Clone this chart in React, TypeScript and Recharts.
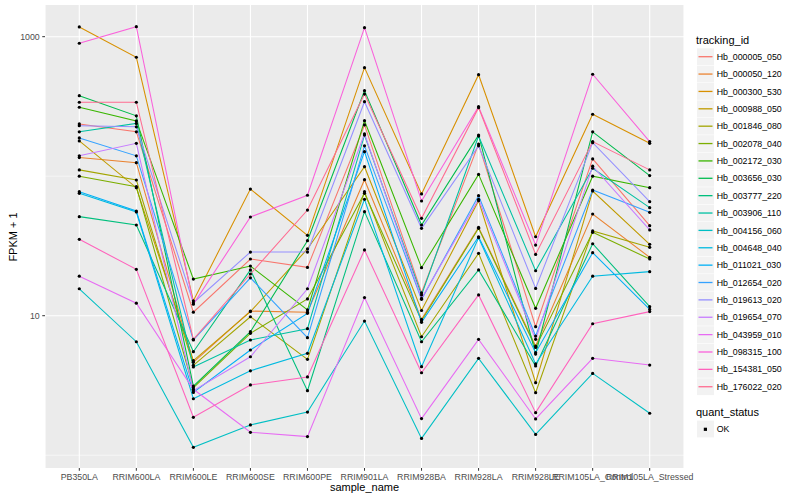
import { LineChart, Line, XAxis, YAxis, CartesianGrid } from "recharts";

// x categories
const SAMPLES = [
  "PB350LA",
  "RRIM600LA",
  "RRIM600LE",
  "RRIM600SE",
  "RRIM600PE",
  "RRIM901LA",
  "RRIM928BA",
  "RRIM928LA",
  "RRIM928LE",
  "RRIM105LA_Control",
  "RRIM105LA_Stressed",
];

const TRACKING_IDS = [
  "Hb_000005_050",
  "Hb_000050_120",
  "Hb_000300_530",
  "Hb_000988_050",
  "Hb_001846_080",
  "Hb_002078_040",
  "Hb_002172_030",
  "Hb_003656_030",
  "Hb_003777_220",
  "Hb_003906_110",
  "Hb_004156_060",
  "Hb_004648_040",
  "Hb_011021_030",
  "Hb_012654_020",
  "Hb_019613_020",
  "Hb_019654_070",
  "Hb_043959_010",
  "Hb_098315_100",
  "Hb_154381_050",
  "Hb_176022_020",
];

// FPKM + 1, one value per sample
const hb000005_050 = [237, 208, 10.6, 25.5, 22.2, 233, 14.6, 170, 8.34, 133, 44.2];
const hb000050_120 = [136, 125, 4.63, 10.8, 10.6, 94.4, 9.42, 43.0, 6.06, 53.6, 26.2];
const hb000300_530 = [1174, 712, 12.8, 80.9, 37.7, 600, 74.6, 534, 36.8, 278, 172];
const hb000988_050 = [179, 82.7, 4.76, 10.7, 30.1, 117, 10.9, 66.7, 3.31, 78.3, 32.5];
const hb001846_080 = [111, 93.9, 4.41, 9.83, 4.87, 77.4, 7.07, 28.0, 2.81, 40.5, 30.9];
const hb002078_040 = [100, 84.1, 3.05, 7.48, 13.2, 75.4, 9.21, 42.3, 5.93, 39.6, 25.5];
const hb002172_030 = [312, 249, 18.3, 22.7, 11.0, 250, 22.1, 103, 11.3, 100, 82.7];
const hb003656_030 = [378, 271, 3.13, 7.68, 34.5, 410, 44.7, 197, 5.31, 208, 101];
const hb003777_220 = [51.3, 44.7, 5.52, 21.3, 2.9, 55.7, 6.51, 21.3, 4.36, 32.8, 11.6];
const hb003906_110 = [208, 239, 4.29, 6.7, 8.07, 197, 14.1, 194, 21.0, 114, 59.5];
const hb004156_060 = [15.6, 6.51, 1.14, 1.65, 2.04, 9.16, 1.32, 4.95, 1.41, 3.86, 2.0];
const hb004648_040 = [75.4, 55.4, 2.54, 4.03, 5.38, 68.3, 4.31, 36.2, 4.51, 19.2, 20.7];
const hb011021_030 = [77.4, 56.3, 2.82, 5.68, 10.4, 150, 8.97, 36.8, 5.43, 28.3, 11.1];
const hb012654_020 = [188, 140, 6.7, 18.7, 6.96, 165, 13.1, 72.5, 7.15, 79.6, 55.1];
const hb019613_020 = [230, 226, 12.4, 28.6, 28.6, 342, 42.3, 165, 15.7, 174, 65.7];
const hb019654_070 = [140, 172, 2.9, 5.08, 15.6, 201, 13.3, 68.3, 6.77, 118, 41.2];
const hb043959_010 = [19.2, 12.3, 2.97, 1.46, 1.36, 13.5, 1.83, 6.77, 1.82, 4.95, 4.43];
const hb098315_100 = [897, 1180, 12.1, 51.0, 73.0, 1160, 66.4, 315, 32.1, 538, 177];
const hb154381_050 = [35.3, 21.5, 1.87, 3.19, 3.64, 29.6, 3.9, 14.1, 2.02, 8.76, 10.7];
const hb176022_020 = [339, 339, 6.77, 19.9, 57.2, 388, 49.9, 310, 27.5, 177, 111];

const SERIES_VALUES = [
  hb000005_050, hb000050_120, hb000300_530, hb000988_050, hb001846_080,
  hb002078_040, hb002172_030, hb003656_030, hb003777_220, hb003906_110,
  hb004156_060, hb004648_040, hb011021_030, hb012654_020, hb019613_020,
  hb019654_070, hb043959_010, hb098315_100, hb154381_050, hb176022_020,
];

const Y_TICKS = [10, 1000];
const Y_MINOR = [1, 100];

// ggplot default hue palette, 20 levels
const PALETTE = [
  "#F8766D", "#EA8331", "#D89000", "#C09B00", "#A3A500",
  "#7CAE00", "#39B600", "#00BB4E", "#00BF7D", "#00C1A3",
  "#00BFC4", "#00BAE0", "#00B0F6", "#35A2FF", "#9590FF",
  "#C77CFF", "#E76BF3", "#FA62DB", "#FF62BC", "#FF6C91",
];

const FONT = '"Liberation Sans", Arial, Helvetica, sans-serif';

const chartData = SAMPLES.map((sample, i) => {
  const row: Record<string, string | number> = { sample };
  TRACKING_IDS.forEach((id, s) => {
    row[id] = SERIES_VALUES[s][i];
  });
  return row;
});

function LegendPanel() {
  const step = 17.37;
  const first = 56.7;
  return (
    <svg
      width={110}
      height={450}
      style={{ position: "absolute", left: 690, top: 0 }}
    >
      <text x={6} y={44} fontSize={11} fill="#000">
        tracking_id
      </text>
      {TRACKING_IDS.map((id, i) => {
        const cy = first + step * i;
        return (
          <g key={id}>
            <rect x={7} y={cy - 8.4} width={17} height={16.8} fill="#F2F2F2" />
            <line x1={8.5} x2={22.5} y1={cy} y2={cy} stroke={PALETTE[i]} strokeWidth={1.3} />
            <text x={26.7} y={cy + 3.1} fontSize={8.8} fill="#000">
              {id}
            </text>
          </g>
        );
      })}
      <text x={6} y={415.5} fontSize={11} fill="#000">
        quant_status
      </text>
      <rect x={7} y={420.6} width={17} height={16.8} fill="#F2F2F2" />
      <rect x={13.8} y={427.7} width={3.2} height={3.2} fill="#000" />
      <text x={26.7} y={432.1} fontSize={8.8} fill="#000">
        OK
      </text>
    </svg>
  );
}

export default function App() {
  return (
    <div
      style={{
        position: "absolute",
        left: 0,
        top: 0,
        width: 800,
        height: 500,
        background: "#fff",
        fontFamily: FONT,
      }}
    >
      <LineChart
        width={800}
        height={500}
        data={chartData}
        margin={{ top: 5, right: 116, bottom: 0, left: 0 }}
      >
        <CartesianGrid
          fill="#EBEBEB"
          stroke="#FFFFFF"
          strokeWidth={0.55}
          vertical={false}
          horizontalValues={Y_MINOR}
        />
        <CartesianGrid
          stroke="#FFFFFF"
          strokeWidth={1.1}
          horizontalValues={Y_TICKS}
        />
        <XAxis
          dataKey="sample"
          type="category"
          interval={0}
          height={32}
          padding={{ left: 34.3, right: 34.3 }}
          axisLine={false}
          tickSize={2.75}
          tickMargin={3.5}
          tickLine={{ stroke: "#333333" }}
          tick={{ fill: "#4D4D4D", fontSize: 8.8 }}
        />
        <YAxis
          type="number"
          scale="log"
          domain={[0.81, 1687]}
          allowDataOverflow
          ticks={Y_TICKS}
          width={45}
          axisLine={false}
          tickSize={2.75}
          tickMargin={2.5}
          tickLine={{ stroke: "#333333" }}
          tick={{ fill: "#4D4D4D", fontSize: 8.8 }}
        />
        {TRACKING_IDS.map((id, i) => (
          <Line
            key={id}
            type="linear"
            dataKey={id}
            stroke={PALETTE[i]}
            strokeWidth={1.07}
            dot={false}
            activeDot={false}
            isAnimationActive={false}
          />
        ))}
        {TRACKING_IDS.map((id) => (
          <Line
            key={id + "_pts"}
            type="linear"
            dataKey={id}
            stroke="none"
            dot={{ r: 1.6, fill: "#000", stroke: "none" }}
            activeDot={false}
            legendType="none"
            isAnimationActive={false}
          />
        ))}
      </LineChart>
      <div
        style={{
          position: "absolute",
          left: 364.5,
          top: 481,
          fontSize: 11,
          lineHeight: "12px",
          whiteSpace: "nowrap",
          transform: "translateX(-50%)",
        }}
      >
        sample_name
      </div>
      <div
        style={{
          position: "absolute",
          left: 13,
          top: 236.5,
          fontSize: 11,
          lineHeight: "12px",
          whiteSpace: "nowrap",
          transform: "translate(-50%, -50%) rotate(-90deg)",
        }}
      >
        FPKM + 1
      </div>
      <LegendPanel />
    </div>
  );
}
